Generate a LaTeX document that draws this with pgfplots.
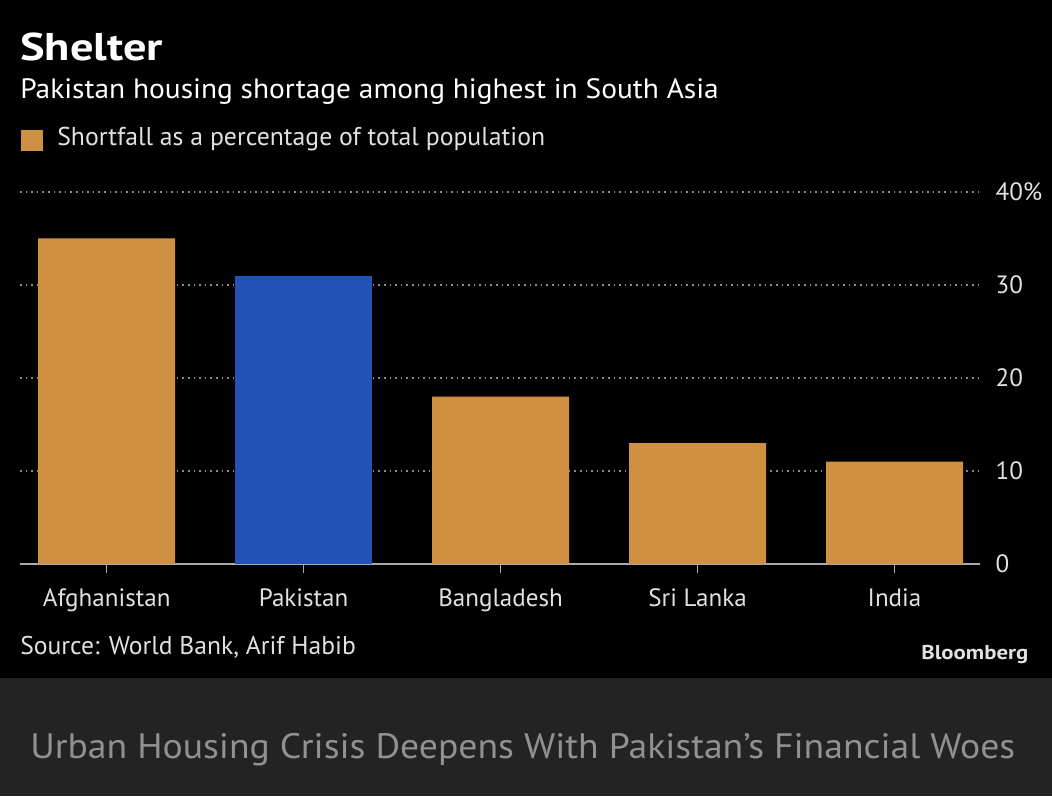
\documentclass[border=0pt]{standalone}
\usepackage{pgfplots}
\pgfplotsset{compat=1.18}
\usepackage{fontspec}
\usepackage{graphicx}
\setmainfont{PT Sans}
\definecolor{barorange}{RGB}{208,144,65}
\definecolor{barblue}{RGB}{34,81,183}
\definecolor{bandgray}{RGB}{35,35,35}
\definecolor{gridgray}{RGB}{140,140,140}
\definecolor{axgray}{RGB}{170,170,170}
\definecolor{txt}{RGB}{225,225,225}
\definecolor{bottomtxt}{RGB}{145,145,145}
\begin{document}
\begin{tikzpicture}[x=0.75pt,y=0.75pt]
\fill[black] (0,0) rectangle (1052,796);
\fill[bandgray] (0,0) rectangle (1052,118);
\node[anchor=base west,inner sep=0pt,text=white] at (20,735) {\scalebox{1.2}[1]{\fontsize{29pt}{34pt}\selectfont\bfseries Shelter}};
\node[anchor=base west,inner sep=0pt,text=white] at (20,697) {\scalebox{1.05}[1]{\fontsize{21pt}{25pt}\selectfont Pakistan housing shortage among highest in South Asia}};
\fill[barorange] (21,645) rectangle (43,666);
\node[anchor=base west,inner sep=0pt,text=txt] at (57,650) {\fontsize{19.3pt}{23pt}\selectfont Shortfall as a percentage of total population};
\node[anchor=base west,inner sep=0pt,text=txt] at (20,142) {\fontsize{19.2pt}{23pt}\selectfont Source: World Bank, Arif Habib};
\node[anchor=base west,inner sep=0pt,text=txt] at (921,137) {\scalebox{1.14}[1]{\fontsize{15pt}{18pt}\selectfont\bfseries Bloomberg}};
\node[anchor=base west,inner sep=0pt,text=bottomtxt] at (30,38) {\scalebox{1.066}[1]{\fontsize{26.5pt}{30pt}\selectfont Urban Housing Crisis Deepens With Pakistan's Financial Woes}};
\begin{axis}[
  at={(15pt,174pt)}, anchor=south west, scale only axis,
  width=720pt, height=279pt,
  xmin=-0.44, xmax=4.434, ymin=0, ymax=40,
  axis x line*=bottom, axis y line*=right,
  x axis line style={draw=axgray, line width=1.2pt, -},
  y axis line style={draw=none},
  xtick={0,1,2,3,4},
  xticklabels={Afghanistan,Pakistan,Bangladesh,Sri Lanka,India},
  ytick={0,10,20,30,40},
  yticklabels={0,10,20,30,40\%},
  /pgf/number format/assume math mode=true,
  tick align=outside,
  major tick length=6.5pt,
  xtick style={draw=axgray, line width=1pt},
  ytick style={draw=none},
  ymajorgrids,
  grid style={draw=gridgray, line width=0.9pt, dash pattern=on 1.2pt off 3pt},
  xticklabel style={text=txt, font=\fontsize{18.8pt}{22pt}\selectfont, anchor=base, yshift=-25.5pt},
  yticklabel style={text=txt, font=\fontsize{18.8pt}{22pt}\selectfont, anchor=west, inner sep=0pt, xshift=5pt},
  ybar, bar width=102.75pt, bar shift=0pt,
]
\addplot[fill=barorange, draw=none] coordinates {(0,35) (2,18) (3,13) (4,11)};
\addplot[fill=barblue, draw=none] coordinates {(1,31)};
\end{axis}
\pgfresetboundingbox
\useasboundingbox (0,0) rectangle (1052,796);
\end{tikzpicture}
\end{document}
